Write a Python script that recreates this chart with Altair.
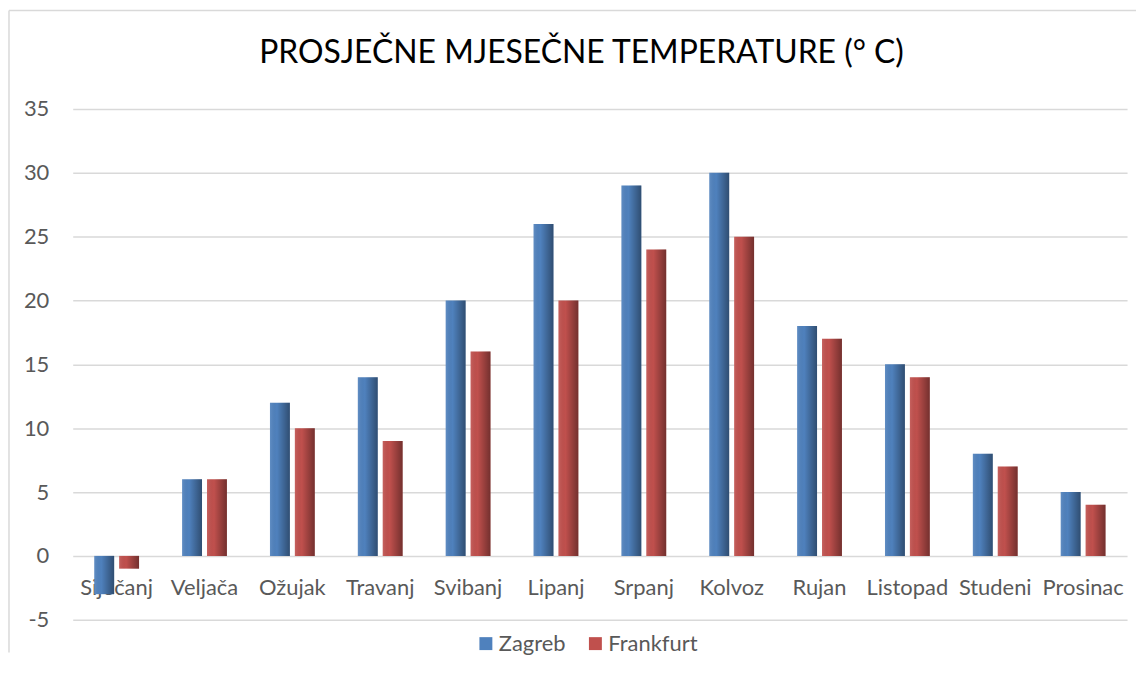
import altair as alt
import pandas as pd

months = ["Siječanj", "Veljača", "Ožujak", "Travanj", "Svibanj", "Lipanj",
          "Srpanj", "Kolvoz", "Rujan", "Listopad", "Studeni", "Prosinac"]
zagreb = [-3, 6, 12, 14, 20, 26, 29, 30, 18, 15, 8, 5]
frankfurt = [-1, 6, 10, 9, 16, 20, 24, 25, 17, 14, 7, 4]
series = ["Zagreb", "Frankfurt"]
colors = ["#4f81bd", "#c0504d"]
y_ticks = [-5, 0, 5, 10, 15, 20, 25, 30, 35]
title_text = "PROSJEČNE MJESEČNE TEMPERATURE (° C)"

rows = []
for m, z, f in zip(months, zagreb, frankfurt):
    rows.append({"month": m, "city": "Zagreb", "temp": z})
    rows.append({"month": m, "city": "Frankfurt", "temp": f})
df = pd.DataFrame(rows)

FONT = "Lato"
GRAY = "#595959"
GRID = "#d9d9d9"

x_enc = alt.X("month:N", sort=months, title=None,
              scale=alt.Scale(paddingInner=0.49, paddingOuter=0.245),
              axis=alt.Axis(orient="bottom", offset=-64, domain=False, ticks=False,
                            labelAngle=0, labelPadding=22, labelFontSize=22,
                            labelFont=FONT, labelColor=GRAY))
xo_enc = alt.XOffset("city:N", sort=series,
                     scale=alt.Scale(paddingInner=0.2, paddingOuter=0))
y_enc = alt.Y("temp:Q", title=None,
              scale=alt.Scale(domain=[-5, 35], nice=False, zero=False),
              axis=alt.Axis(values=y_ticks, domain=False, ticks=False,
                            labelExpr="datum.value < 0 ? '-' + abs(datum.value) : datum.label",
                            labelPadding=24, labelFontSize=22, labelFont=FONT,
                            labelColor=GRAY, gridColor=GRID, gridWidth=1.5))

base = alt.Chart(df).mark_bar().encode(
    x=x_enc,
    xOffset=xo_enc,
    y=y_enc,
    color=alt.Color("city:N", sort=series,
                    scale=alt.Scale(domain=series, range=colors),
                    legend=alt.Legend(orient="none", legendX=404, legendY=526,
                                      direction="horizontal", title=None,
                                      symbolType="square", symbolSize=169,
                                      symbolStrokeWidth=0,
                                      labelFontSize=22, labelFont=FONT,
                                      labelColor=GRAY, columnPadding=18,
                                      labelOffset=2)),
)

shade = alt.Gradient(
    gradient="linear", x1=0, x2=1, y1=0, y2=0,
    stops=[
        alt.GradientStop(color="rgba(255,255,255,0.10)", offset=0),
        alt.GradientStop(color="rgba(0,0,0,0)", offset=0.35),
        alt.GradientStop(color="rgba(0,0,0,0.40)", offset=1),
    ],
)
overlay = alt.Chart(df).mark_bar(fill=shade).encode(
    x=alt.X("month:N", sort=months),
    xOffset=alt.XOffset("city:N", sort=series),
    y=alt.Y("temp:Q"),
)

single = alt.Data(values=[{"t": title_text}])
frame_left = alt.Chart(single).mark_rule(color=GRID, strokeWidth=1.5).encode(
    x=alt.value(-64), y=alt.value(-99), y2=alt.value(546))
frame_top = alt.Chart(single).mark_rule(color=GRID, strokeWidth=1.5).encode(
    x=alt.value(-64), x2=alt.value(1068), y=alt.value(-99))
title_layer = alt.Chart(single).mark_text(
    font=FONT, fontSize=32, color="#000000", align="center", baseline="middle"
).encode(x=alt.value(511), y=alt.value(-56), text="t:N")

chart = alt.layer(base, overlay, frame_left, frame_top, title_layer).properties(
    width=1059, height=513,
    padding={"left": 0, "top": 0, "right": 0, "bottom": 0},
).configure_view(stroke=None)

chart.save("out.html", embed_options={"renderer": "svg", "actions": False})
